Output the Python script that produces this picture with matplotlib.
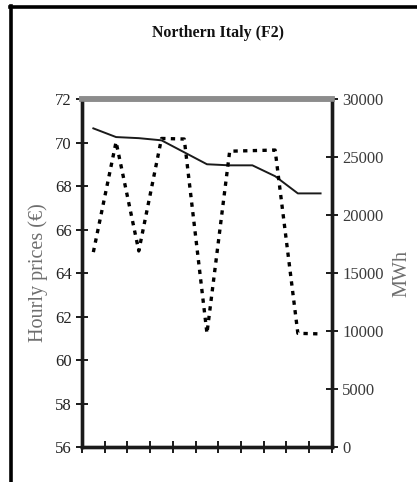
import matplotlib
matplotlib.use("Agg")
import matplotlib.pyplot as plt
from matplotlib.lines import Line2D
import numpy as np

# Hourly prices (left axis, EUR) and volumes (right axis, MWh) for 11 periods
periods = list(range(1, 12))
prices = [70.65, 70.25, 70.2, 70.1, 69.55, 69.0, 68.95, 68.95, 68.45, 67.66, 67.66]
volumes = [16800, 26300, 16900, 26600, 26550, 9800, 25500, 25550, 25600, 9800, 9750]

left_ticks = [56, 58, 60, 62, 64, 66, 68, 70, 72]
right_ticks = [0, 5000, 10000, 15000, 20000, 25000, 30000]

plt.rcParams["font.family"] = ["Liberation Serif", "DejaVu Serif"]

fig = plt.figure(figsize=(4.17, 4.82), dpi=100)
ax = fig.add_axes([0.1966, 0.0726, 0.5994, 0.722])
ax2 = ax.twinx()

ax.plot(periods, prices, color="#1a1a1a", lw=1.4, zorder=3)
ax2.plot(periods, volumes, color="black", lw=2.4,
         linestyle=(0, (1.3, 1.6)), zorder=2)

ax.set_xlim(0.5, 11.5)
ax.set_ylim(56, 72)
ax2.set_ylim(0, 30000)
ax.set_xticks(np.arange(0.5, 12.0, 1.0))
ax.set_xticklabels([])
ax.set_yticks(left_ticks)
ax.set_yticklabels([str(t) for t in left_ticks])
ax2.set_yticks(right_ticks)
ax2.set_yticklabels([str(t) for t in right_ticks])

for a in (ax, ax2):
    for s in ("left", "right", "bottom"):
        a.spines[s].set_linewidth(2.4)
        a.spines[s].set_color("#1a1a1a")
    a.spines["top"].set_linewidth(4)
    a.spines["top"].set_color("#8c8c8c")

ax.tick_params(axis="both", direction="inout", length=9, width=1.4,
               color="#1a1a1a", labelsize=12, labelcolor="#222222", pad=3)
ax2.tick_params(axis="y", direction="inout", length=9, width=1.4,
                color="#1a1a1a", labelsize=12, labelcolor="#3a3a3a", pad=3)

ax.set_ylabel("Hourly prices (€)", fontsize=14.5, color="#6e6e6e", labelpad=5)
ax2.set_ylabel("MWh", fontsize=14.5, color="#6e6e6e", labelpad=6)

fig.text(0.523, 0.932, "Northern Italy (F2)", ha="center", va="center",
         fontsize=11.4, fontweight="bold", color="#111111")

# Border lines of the panel
fig.add_artist(Line2D([0.026, 0.026], [0.0, 0.987], transform=fig.transFigure,
                      color="black", lw=2.6))
fig.add_artist(Line2D([0.024, 1.0], [0.986, 0.986], transform=fig.transFigure,
                      color="black", lw=2.6))

fig.savefig("out.png", dpi=100)
